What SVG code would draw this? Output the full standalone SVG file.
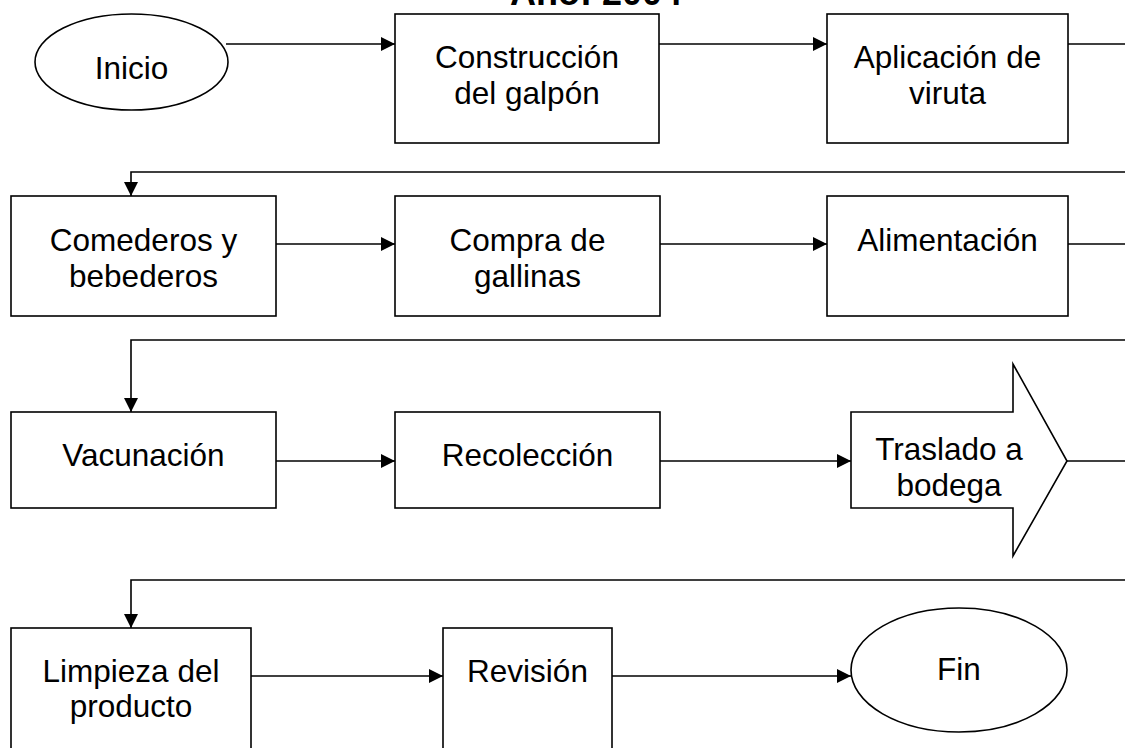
<svg xmlns="http://www.w3.org/2000/svg" width="1125" height="748" viewBox="0 0 1125 748">
<style>
.shape{fill:#fff;stroke:#000;stroke-width:1.6}
.lbl{font-family:"Liberation Sans",Arial,sans-serif;font-size:31.5px;fill:#000;text-anchor:middle}
.title{font-family:"Liberation Sans",Arial,sans-serif;font-size:36px;font-weight:bold;fill:#000}
.conn{fill:none;stroke:#000;stroke-width:1.6}
</style>
<defs>
<marker id="ah" markerUnits="userSpaceOnUse" markerWidth="14" markerHeight="14" refX="14" refY="7" orient="auto">
<path d="M0,0 L14,7 L0,14 z" fill="#000"/>
</marker>
</defs>
<rect width="1125" height="748" fill="#fff"/>
<text class="title" x="510" y="5">Año: 2004</text>
<g id="connectors">
<path class="conn" d="M226,44 H395" marker-end="url(#ah)"/>
<path class="conn" d="M659,44 H827" marker-end="url(#ah)"/>
<path class="conn" d="M1068,44 H1125"/>
<path class="conn" d="M1125,172 H131 V196" marker-end="url(#ah)"/>
<path class="conn" d="M276,244 H395" marker-end="url(#ah)"/>
<path class="conn" d="M660,244 H827" marker-end="url(#ah)"/>
<path class="conn" d="M1068,244 H1125"/>
<path class="conn" d="M1125,340 H131 V412" marker-end="url(#ah)"/>
<path class="conn" d="M276,461 H395" marker-end="url(#ah)"/>
<path class="conn" d="M660,461 H851" marker-end="url(#ah)"/>
<path class="conn" d="M1067,461 H1125"/>
<path class="conn" d="M1125,580 H131 V628" marker-end="url(#ah)"/>
<path class="conn" d="M251,676 H443" marker-end="url(#ah)"/>
<path class="conn" d="M612,676 H851" marker-end="url(#ah)"/>
</g>
<g id="inicio">
<ellipse class="shape" cx="131.5" cy="62" rx="96.5" ry="48"/>
<text class="lbl" x="131.5" y="79">Inicio</text>
</g>
<g id="construccion">
<rect class="shape" x="395" y="14" width="264" height="129"/>
<text class="lbl" x="527" y="68">Construcción</text>
<text class="lbl" x="527" y="104">del galpón</text>
</g>
<g id="aplicacion">
<rect class="shape" x="827" y="14" width="241" height="129"/>
<text class="lbl" x="947.5" y="68">Aplicación de</text>
<text class="lbl" x="947.5" y="104">viruta</text>
</g>
<g id="comederos">
<rect class="shape" x="11" y="196" width="265" height="120"/>
<text class="lbl" x="143.5" y="251">Comederos y</text>
<text class="lbl" x="143.5" y="287">bebederos</text>
</g>
<g id="compra">
<rect class="shape" x="395" y="196" width="265" height="120"/>
<text class="lbl" x="527.5" y="251">Compra de</text>
<text class="lbl" x="527.5" y="287">gallinas</text>
</g>
<g id="alimentacion">
<rect class="shape" x="827" y="196" width="241" height="120"/>
<text class="lbl" x="947.5" y="251">Alimentación</text>
</g>
<g id="vacunacion">
<rect class="shape" x="11" y="412" width="265" height="96"/>
<text class="lbl" x="143.5" y="466">Vacunación</text>
</g>
<g id="recoleccion">
<rect class="shape" x="395" y="412" width="265" height="96"/>
<text class="lbl" x="527.5" y="466">Recolección</text>
</g>
<g id="traslado">
<polygon class="shape" points="851,412 1013,412 1013,364 1067,461 1013,556 1013,508 851,508"/>
<text class="lbl" x="949" y="460">Traslado a</text>
<text class="lbl" x="949" y="496">bodega</text>
</g>
<g id="limpieza">
<rect class="shape" x="11" y="628" width="240" height="140"/>
<text class="lbl" x="131" y="682">Limpieza del</text>
<text class="lbl" x="131" y="717">producto</text>
</g>
<g id="revision">
<rect class="shape" x="443" y="628" width="169" height="140"/>
<text class="lbl" x="527.5" y="682">Revisión</text>
</g>
<g id="fin">
<ellipse class="shape" cx="959" cy="670" rx="108" ry="62"/>
<text class="lbl" x="959" y="680">Fin</text>
</g>
</svg>
